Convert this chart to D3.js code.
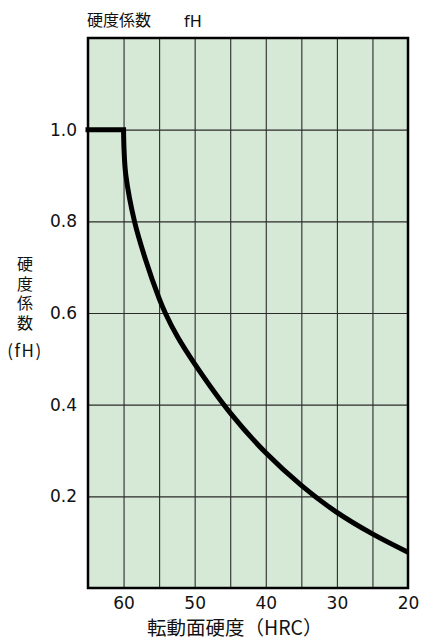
<!DOCTYPE html>
<html><head><meta charset="utf-8">
<script src="https://cdn.jsdelivr.net/npm/d3@7"></script>
<style>body{margin:0;background:#fff}svg{display:block}</style>
</head><body>
<svg id="c" width="424" height="641"></svg>
<script>
// Data (HRC vs hardness factor fH)
const hrc = [60, 59.93, 59.68, 58.45, 56.96, 55.0, 54.1, 52.41, 50, 45, 40, 35, 30, 25, 20];
const fH  = [1.0, 0.956, 0.901, 0.799, 0.719, 0.632, 0.599, 0.548, 0.489, 0.382, 0.295, 0.224, 0.165, 0.118, 0.078];
const flatHRC = [65, 60];
const flatFH = [1.0, 1.0];
const xTicks = [60, 50, 40, 30, 20];
const yTicks = [0.2, 0.4, 0.6, 0.8, 1.0];
const xGrid = [60, 55, 50, 45, 40, 35, 30, 25];
const yGrid = [0.2, 0.4, 0.6, 0.8, 1.0];

const svg = d3.select("#c");
const L = 88, R = 408, T = 38, B = 588;
const x = d3.scaleLinear().domain([65, 20]).range([L, R]);
const y = d3.scaleLinear().domain([0, 1.2]).range([B, T]);
const font = "'Noto Sans CJK JP', 'Noto Sans', sans-serif";
const numFont = "'DejaVu Sans', sans-serif";

svg.append("rect").attr("x", L).attr("y", T).attr("width", R - L).attr("height", B - T)
  .attr("fill", "#d5e9d6");

// grid via axes
svg.append("g").attr("transform", `translate(0,${B})`)
  .call(d3.axisBottom(x).tickValues(xGrid).tickSize(-(B - T)).tickFormat(""))
  .call(g => g.select(".domain").remove())
  .call(g => g.selectAll("line").attr("stroke", "#2a2a2a").attr("stroke-width", 1.1));
svg.append("g").attr("transform", `translate(${L},0)`)
  .call(d3.axisLeft(y).tickValues(yGrid).tickSize(-(R - L)).tickFormat(""))
  .call(g => g.select(".domain").remove())
  .call(g => g.selectAll("line").attr("stroke", "#2a2a2a").attr("stroke-width", 1.1));

// frame
svg.append("rect").attr("x", L).attr("y", T).attr("width", R - L).attr("height", B - T)
  .attr("fill", "none").attr("stroke", "#000").attr("stroke-width", 2.5);

// tick labels
svg.append("g").attr("transform", `translate(0,${B})`)
  .call(d3.axisBottom(x).tickValues(xTicks).tickSize(0).tickPadding(9).tickFormat(d3.format("d")))
  .call(g => g.select(".domain").remove())
  .call(g => g.selectAll("text").attr("font-family", numFont).attr("font-size", 17).attr("fill", "#111"));
svg.append("g").attr("transform", `translate(${L},0)`)
  .call(d3.axisLeft(y).tickValues(yTicks).tickSize(0).tickPadding(11).tickFormat(d3.format(".1f")))
  .call(g => g.select(".domain").remove())
  .call(g => g.selectAll("text").attr("font-family", numFont).attr("font-size", 17).attr("fill", "#111"));

// curve
const line = d3.line().x(d => x(d[0])).y(d => y(d[1]));
svg.append("path").datum(flatHRC.map((h, i) => [h, flatFH[i]]))
  .attr("d", line).attr("fill", "none").attr("stroke", "#000").attr("stroke-width", 5).attr("stroke-linecap", "square");
svg.append("path").datum(hrc.map((h, i) => [h, fH[i]]))
  .attr("d", d3.line().x(d => x(d[0])).y(d => y(d[1])).curve(d3.curveCatmullRom.alpha(0.5)))
  .attr("fill", "none").attr("stroke", "#000").attr("stroke-width", 5)
  .attr("stroke-linejoin", "round");

// title
svg.append("text").attr("x", 87).attr("y", 26).attr("font-family", font).attr("font-size", 16)
  .attr("fill", "#111").text("硬度係数");
svg.append("text").attr("x", 184).attr("y", 27).attr("font-family", numFont).attr("font-size", 16)
  .attr("fill", "#111").text("fH");

// y label vertical
svg.append("text").attr("x", 25).attr("y", 256)
  .style("writing-mode", "vertical-rl").attr("letter-spacing", 3.6)
  .attr("font-family", font).attr("font-size", 16).attr("fill", "#111").text("硬度係数");
svg.append("text").attr("x", 25).attr("y", 357).attr("text-anchor", "middle")
  .attr("font-family", font).attr("font-size", 17).attr("letter-spacing", 1.5).attr("fill", "#111").text("(fH)");

// x label
svg.append("text").attr("x", 147).attr("y", 635).attr("text-anchor", "start")
  .attr("font-family", font).attr("font-size", 19.5).attr("fill", "#111").text("転動面硬度（HRC）");
</script>
</body></html>
